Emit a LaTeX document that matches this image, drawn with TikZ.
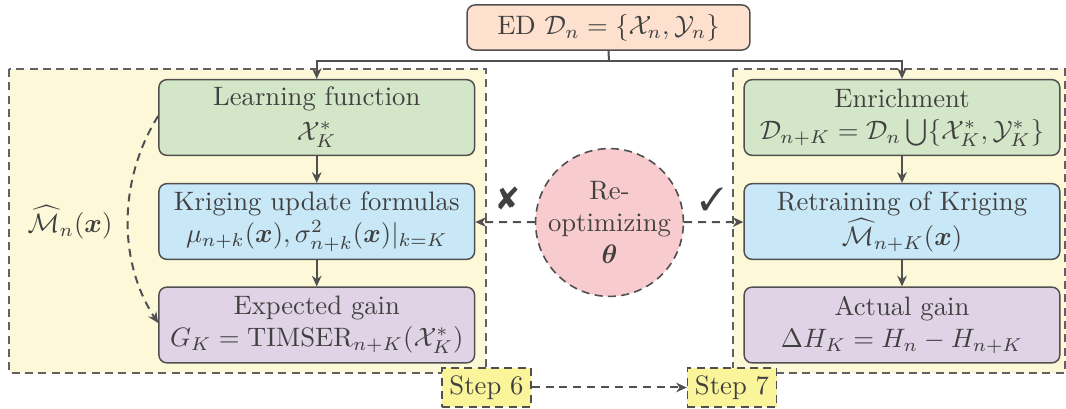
\documentclass[tikz,border=0pt]{standalone}
\usepackage{amsmath,amssymb,bm}
\usepackage{pifont}
\usetikzlibrary{arrows.meta}
\definecolor{txt}{HTML}{404040}
\definecolor{edge}{HTML}{505050}
\definecolor{edfill}{HTML}{FDE1CE}
\definecolor{grfill}{HTML}{D3E6C8}
\definecolor{blfill}{HTML}{C8E7F7}
\definecolor{pufill}{HTML}{E1D3E6}
\definecolor{regfill}{HTML}{FCF8D8}
\definecolor{stepfill}{HTML}{FAF59A}
\definecolor{cirfill}{HTML}{F8CBCE}
\tikzset{
  box/.style={draw=edge, line width=0.55pt, rounded corners=3pt, minimum width=118.4pt, minimum height=28.4pt, inner sep=0pt, align=center, text=txt, font=\normalsize},
  region/.style={draw=edge!90, fill=regfill, line width=0.5pt, dash pattern=on 3pt off 2pt},
  stepbox/.style={draw=edge, fill=stepfill, line width=0.5pt, dash pattern=on 3pt off 2pt, minimum width=33.4pt, minimum height=14.6pt, inner sep=0pt, text=txt},
  conn/.style={draw=edge, line width=0.75pt, -{Stealth[length=4pt,width=3.6pt]}},
  dconn/.style={conn, dash pattern=on 3pt off 2.2pt},
}
\begin{document}
\begin{tikzpicture}[x=0.375pt, y=-0.375pt]
\useasboundingbox (0,0) rectangle (1066,409);
% regions
\path[region] (9,69) rectangle (486,373);
\path[region] (733,69) rectangle (1065,373);
% top node
\node[box, fill=edfill, minimum width=106.1pt, minimum height=16.9pt] (ed) at (608.5,27.5) {ED $\mathcal{D}_n=\{\mathcal{X}_n,\mathcal{Y}_n\}$};
% left column
\node[box, fill=grfill] (lf) at (316.75,117.5) {Learning function\\[1pt] $\mathcal{X}_K^*$};
\node[box, fill=blfill] (ku) at (316.75,221.5) {Kriging update formulas\\ $\mu_{n+k}(\bm{x}),\sigma^2_{n+k}(\bm{x})|_{k=K}$};
\node[box, fill=pufill] (eg) at (316.75,325) {Expected gain\\ $G_K=\mathrm{TIMSER}_{n+K}(\mathcal{X}_K^*)$};
% right column
\node[box, fill=grfill] (en) at (902,117.5) {Enrichment\\ $\mathcal{D}_{n+K}=\mathcal{D}_n\bigcup\{\mathcal{X}_K^*,\mathcal{Y}_K^*\}$};
\node[box, fill=blfill] (rk) at (902,221.5) {Retraining of Kriging\\ $\widehat{\mathcal{M}}_{n+K}(\bm{x})$};
\node[box, fill=pufill] (ag) at (902,325) {Actual gain\\ $\Delta H_K=H_n-H_{n+K}$};
% circle
\node[circle, draw=edge, fill=cirfill, line width=0.6pt, dash pattern=on 3pt off 2pt, minimum size=52.9pt, inner sep=0pt, align=center, text=txt] (ro) at (609.5,222.5) {Re-\\optimizing\\$\bm{\theta}$};
% step boxes
\node[stepbox] (s6) at (486.5,387.5) {Step 6};
\node[stepbox] (s7) at (732,387.5) {Step 7};
% labels
\node[text=txt] (mn) at (70,222) {$\widehat{\mathcal{M}}_n(\bm{x})$};
\node[text=txt, font=\large] (cross) at (508,198) {\ding{56}};
\node[text=txt, font=\large] (check) at (712,199) {\ding{51}};
% bus from ED
\coordinate (bus) at (609,61);
\draw[edge, line width=0.75pt] (ed.south) -- (bus);
\draw[conn] (bus) -| (lf.north);
\draw[conn] (bus) -| (en.north);
% vertical arrows
\draw[conn] (lf) -- (ku);
\draw[conn] (ku) -- (eg);
\draw[conn] (en) -- (rk);
\draw[conn] (rk) -- (ag);
% dashed arrows
\draw[dconn] (ro) -- (ku);
\draw[dconn] (ro) -- (rk);
\draw[dconn] (s6) -- (s7);
\draw[dconn] (lf.west |- 0,116) .. controls (118,180) and (118,262) .. (eg.west |- 0,323);
\end{tikzpicture}
\end{document}
